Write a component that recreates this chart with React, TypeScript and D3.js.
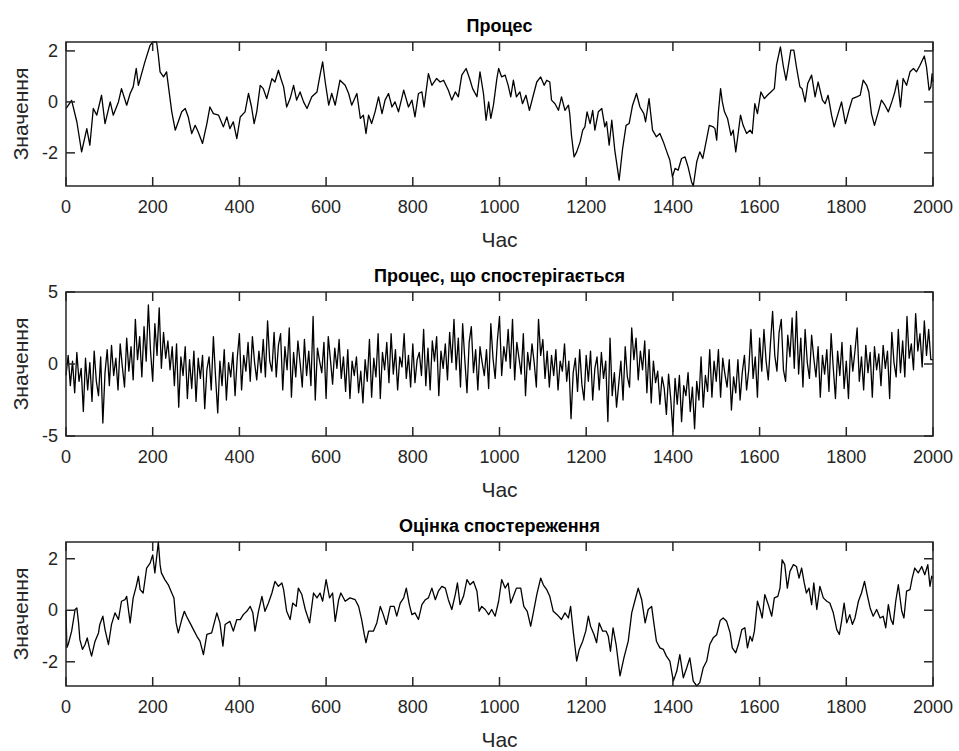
import React from 'react'
import { scaleLinear, line, range } from 'd3'

const WIDTH = 959
const HEIGHT = 751
const LEFT = 66
const RIGHT = 933
const PLOT_H = 144
const FONT = '"Liberation Sans", Arial, Helvetica, sans-serif'
const INK = '#262626'

const xTicks = [0, 200, 400, 600, 800, 1000, 1200, 1400, 1600, 1800, 2000]

// Процес (true process)
const processTime = [
  0, 13, 25, 36, 48, 55, 63, 71, 82, 90, 102, 109, 121, 128, 140, 148, 155, 162, 167, 182,
  194, 200, 209, 213, 217, 225, 232, 236, 244, 252, 259, 267, 275, 282, 290, 298, 305, 315, 325, 332,
  340, 352, 363, 371, 378, 386, 394, 402, 413, 421, 428, 434, 440, 448, 455, 463, 475, 482, 490, 496,
  502, 509, 517, 525, 532, 540, 548, 556, 567, 579, 586, 592, 598, 606, 613, 621, 632, 644, 652, 659,
  671, 679, 686, 692, 698, 705, 713, 721, 729, 736, 744, 752, 759, 767, 779, 790, 798, 805, 813, 821,
  826, 836, 844, 855, 863, 871, 882, 890, 898, 905, 913, 923, 931, 938, 948, 955, 963, 969, 975, 980,
  986, 994, 998, 1005, 1013, 1020, 1026, 1032, 1039, 1047, 1053, 1061, 1069, 1078, 1086, 1095, 1103, 1109, 1116, 1120,
  1128, 1136, 1143, 1151, 1159, 1162, 1166, 1172, 1178, 1186, 1192, 1197, 1202, 1209, 1215, 1220, 1228, 1236, 1243, 1247,
  1253, 1259, 1266, 1276, 1284, 1292, 1299, 1307, 1316, 1324, 1333, 1337, 1345, 1353, 1362, 1370, 1378, 1386, 1393, 1399,
  1405, 1412, 1420, 1428, 1435, 1443, 1447, 1455, 1462, 1469, 1478, 1484, 1493, 1497, 1501, 1505, 1510, 1514, 1519, 1526,
  1534, 1539, 1545, 1551, 1556, 1562, 1570, 1578, 1583, 1589, 1595, 1603, 1611, 1618, 1626, 1634, 1639, 1648, 1655, 1661,
  1666, 1672, 1679, 1685, 1693, 1698, 1705, 1711, 1720, 1728, 1735, 1745, 1751, 1758, 1766, 1772, 1780, 1789, 1798, 1806,
  1814, 1824, 1832, 1839, 1847, 1852, 1858, 1865, 1874, 1881, 1889, 1897, 1905, 1912, 1918, 1925, 1931, 1939, 1947, 1955,
  1962, 1970, 1980, 1985, 1991, 1995, 1998, 2000,
]
const processValue = [
  -0.26, 0.06, -0.78, -1.96, -1.05, -1.7, -0.26, -0.52, 0.26, -0.85, 0, -0.52, 0, 0.52, -0.13, 0.33, 0.59, 1.31, 0.65, 1.57,
  2.22, 2.35, 2.35, 1.83, 1.18, 0.98, 1.18, 0.65, -0.39, -1.11, -0.78, -0.39, -0.26, -0.59, -1.24, -0.92, -1.18, -1.63, -0.85, -0.2,
  -0.46, -0.52, -0.98, -0.59, -1.05, -0.78, -1.44, -0.59, -0.39, 0.33, -0.2, -0.85, -0.39, 0.65, 0.52, 0.13, 0.91, 0.78, 1.24, 0.9,
  0.59, -0.2, 0.13, 0.65, 0.07, 0.39, 0, -0.26, 0.2, 0.39, 1.05, 1.57, 0.78, -0.13, 0.33, -0.13, 0.85, 0.65, 0.33, -0.13,
  0.33, -0.65, -0.52, -1.24, -0.52, -0.85, -0.39, 0.2, -0.46, 0.07, 0.33, -0.2, 0, -0.39, 0.46, -0.2, 0.07, -0.59, 0.33, 0.39,
  -0.2, 1.11, 0.65, 0.92, 0.78, 0.85, 0.46, 0.07, 0.39, 0.2, 1.05, 1.31, 0.92, 0.52, 0.2, 1.18, 0.33, -0.72, 0, -0.65,
  -0.13, 0.92, 1.31, 0.98, 1.05, 0.65, 0.2, 0.85, 0.2, 0.39, -0.07, 0.26, -0.33, 0.26, 0.78, 0.98, 0.65, 0.85, 0.78, 0.07,
  -0.07, -0.33, 0.2, -0.33, -0.13, -0.46, -1.31, -2.16, -1.96, -1.57, -1.11, -0.98, -0.39, -0.85, -0.33, -1.11, -0.39, -0.26, -0.98, -0.78,
  -1.7, -0.72, -1.9, -3.07, -1.83, -0.92, -0.85, -0.13, 0.33, -0.2, -0.46, -0.78, 0.13, -1.11, -1.37, -1.24, -1.57, -1.96, -2.29, -2.94,
  -2.61, -2.68, -2.22, -2.16, -2.55, -3.14, -3.3, -2.35, -1.96, -2.22, -1.44, -0.92, -0.98, -1.05, -1.5, -0.39, 0.52, 0, -0.39, -0.65,
  -1.31, -1.11, -1.96, -1.18, -0.52, -0.92, -1.24, -1.11, -1.24, -0.07, -0.46, 0.39, 0.13, 0.26, 0.39, 0.52, 1.44, 2.16, 1.37, 0.85,
  1.37, 2.03, 2.03, 1.37, 0.59, 0.52, 0, 0.72, 1.05, 0.2, 0.78, 0.07, -0.07, 0.26, -0.52, -0.98, -0.52, 0, -0.85, -0.33,
  0.13, 0.2, 0.26, 0.85, 0.65, 0.39, -0.46, -0.92, -0.39, 0.07, -0.13, -0.39, 0, 0.39, 0.85, -0.2, 0.92, 0.65, 1.18, 1.31,
  1.18, 1.44, 1.8, 1.37, 0.46, 0.59, 1.11, 0.78,
]

// Процес, що спостерігається (observed, one value every 5 time steps)
const observedValue = [
  -0.8, 0.6, -1.5, 0.2, -2.0, 0.8, -1.2, -0.3, -3.3, 0.4,
  -1.8, 0.1, -2.6, 0.9, -1.2, -2.2, 0.5, -4.1, -0.6, 1.0,
  -1.5, 1.3, -0.8, 0.4, -1.8, 1.4, -0.2, -1.6, 1.8, -0.5,
  1.2, -1.1, 3.1, 0.3, 1.9, -0.9, 2.6, 0.2, 4.1, 0.9,
  -1.2, 2.8, 0.6, 3.9, -0.3, 2.2, 0.4, 1.6, -0.4, 1.2,
  -1.5, 1.4, -3.0, 0.5, -0.8, 1.2, -2.4, 0.3, -1.7, 0.9,
  -2.6, 0.4, -1.0, 0.6, -3.1, -0.4, 0.5, -1.8, 1.9, -0.9,
  -3.4, 0.2, -1.5, 1.0, -2.5, 0.1, -0.9, 0.8, -2.2, 0.4,
  2.1, -1.8, 0.6, -0.5, 1.5, -1.2, 1.9, 0.1, -1.1, 0.9,
  -0.6, 1.7, -0.9, 3.0, 0.2, -0.5, 2.2, -0.9, 1.3, 2.1,
  -1.8, 1.2, -0.4, 2.5, -2.3, 0.8, -0.9, 1.6, 0.1, -1.6,
  1.7, -0.8, 0.9, -1.5, 3.3, -2.5, 1.1, 0.2, -0.6, 1.5,
  -2.4, 1.9, 0.3, -1.4, 1.1, -0.3, 1.7, -1.0, 0.5, -1.9,
  1.0, -2.4, 0.2, -0.8, 0.5, -2.0, -0.5, -2.7, 0.3, -1.2,
  1.7, -2.3, 0.4, -0.9, 2.1, -2.4, 0.8, -0.4, 1.5, -1.3,
  2.1, -0.7, 1.0, -1.8, 0.5, -0.2, 2.1, -1.0, 0.6, -1.6,
  1.4, -1.3, 0.3, 0.8, -0.8, 2.4, -1.5, 1.1, -1.8, 1.6,
  0.2, 1.9, -2.2, 0.9, -0.3, 1.4, -1.1, 2.2, 0.1, 3.1,
  -0.4, 1.8, -1.6, 2.8, 0.3, -2.0, 1.5, 2.6, -0.6, 1.0,
  -1.8, 1.2, 0.1, -0.8, 1.0, -1.7, 2.8, 0.4, -1.0, 1.6,
  3.3, -0.8, 1.2, 0.2, 2.4, -0.3, 3.1, -1.1, 1.5, 0.4,
  -0.7, 2.1, -2.2, 0.8, -0.4, 1.4, 0.1, -1.6, 3.1, 0.6,
  1.7, -1.0, 0.9, -1.6, 0.6, -0.8, 1.0, -1.8, 0.2, -0.5,
  1.4, -1.2, 0.2, -3.8, -0.6, 0.4, -1.9, 1.0, -1.4, -2.5,
  0.6, -1.2, 0.9, -2.5, -0.3, 0.5, -1.8, 0.8, -1.0, 0.2,
  -4.0, 1.8, -2.2, -0.6, -3.0, -1.4, 0.2, -2.5, 1.2, -0.9,
  -1.6, 2.5, 0.3, 1.8, -1.1, 0.9, -0.4, 1.6, -2.0, 1.0,
  -2.7, 0.2, -1.3, -0.5, -2.8, -0.9, -1.7, -3.5, -0.7, -2.4,
  -4.7, -1.0, -2.8, -0.8, -4.0, -1.5, -2.2, -0.6, -3.3, -1.6,
  -4.5, -1.2, -2.5, 0.5, -3.0, -0.8, -1.9, 1.0, -2.3, 0.2,
  -1.2, 1.0, -2.3, 0.4, -0.7, -1.6, 0.3, -3.2, -0.9, -2.0,
  0.3, -2.5, -0.6, 0.6, -1.8, -0.4, 2.4, -1.0, 0.5, -2.3,
  1.8, -0.5, 2.4, 0.2, -1.1, 1.4, 3.65, 0.6, -0.5, 2.2,
  3.1, -0.4, -1.2, 2.0, 0.5, 3.2, -0.3, 3.65, -0.7, 1.8,
  -1.6, 2.4, 0.1, -1.0, 2.0, 0.4, -0.9, 1.2, -2.3, 0.6,
  -0.7, 1.0, -1.9, 2.1, -0.3, -2.4, 0.9, -0.8, 1.5, -1.7,
  0.2, -2.4, 1.3, -0.5, 0.9, 2.5, -1.2, 0.5, -1.8, 1.3,
  -0.6, 0.8, -2.3, 1.2, -0.4, 0.7, -1.5, 1.3, -0.3, 0.9,
  -2.4, 2.2, 0.1, -0.9, 2.4, -0.6, 1.6, -0.9, 3.3, 0.4,
  1.4, -0.4, 3.5, 0.9, 2.1, -0.2, 3.0, 0.6, 2.4, 0.3,
  0.3,
]
const observedTime = range(0, 2001, 5)

// Оцінка спостереження (estimate)
const estimateTime = [
  0, 2, 5, 13, 21, 25, 29, 32, 38, 44, 49, 54, 59, 67, 75, 78, 85, 90, 98, 105,
  113, 121, 128, 136, 140, 148, 155, 162, 167, 171, 178, 186, 194, 200, 205, 213, 217, 220, 228, 236,
  244, 249, 254, 259, 267, 273, 278, 286, 294, 302, 309, 317, 325, 336, 348, 355, 362, 367, 378, 386,
  394, 402, 409, 417, 425, 431, 436, 444, 452, 459, 467, 475, 482, 490, 498, 502, 509, 517, 523, 531,
  536, 544, 552, 562, 571, 579, 586, 592, 600, 608, 615, 621, 629, 634, 644, 655, 667, 675, 682, 688,
  692, 698, 709, 717, 725, 732, 739, 748, 757, 763, 771, 779, 785, 792, 798, 805, 813, 821, 829, 836,
  844, 852, 859, 867, 875, 882, 890, 898, 903, 909, 917, 925, 932, 940, 948, 953, 959, 967, 975, 982,
  990, 998, 1005, 1013, 1020, 1026, 1032, 1039, 1049, 1056, 1064, 1072, 1078, 1086, 1095, 1101, 1109, 1116, 1124, 1133,
  1143, 1151, 1159, 1164, 1170, 1178, 1184, 1192, 1199, 1205, 1210, 1218, 1224, 1230, 1238, 1246, 1251, 1256, 1262, 1269,
  1278, 1287, 1297, 1305, 1312, 1320, 1328, 1336, 1343, 1351, 1356, 1362, 1370, 1378, 1385, 1393, 1401, 1409, 1416, 1424,
  1432, 1439, 1447, 1455, 1462, 1470, 1478, 1485, 1493, 1501, 1509, 1516, 1524, 1532, 1537, 1545, 1551, 1559, 1566, 1572,
  1578, 1583, 1588, 1595, 1601, 1606, 1612, 1620, 1628, 1634, 1642, 1647, 1652, 1658, 1664, 1670, 1678, 1685, 1691, 1697,
  1703, 1708, 1714, 1720, 1725, 1732, 1739, 1747, 1755, 1762, 1770, 1778, 1784, 1789, 1795, 1801, 1808, 1814, 1820, 1828,
  1835, 1842, 1849, 1855, 1862, 1870, 1878, 1885, 1891, 1897, 1903, 1908, 1914, 1920, 1928, 1933, 1939, 1947, 1952, 1958,
  1966, 1974, 1981, 1988, 1993, 1997, 2000,
]
const estimateValue = [
  0, -1.45, -1.33, -0.81, 0.03, 0.09, -0.49, -1.14, -1.52, -1.33, -1.07, -1.46, -1.78, -1.2, -0.88, -0.55, -0.23, -0.75, -1.33, -0.55,
  -0.1, -0.36, 0.35, 0.41, 0.54, -0.49, 0.48, 0.93, 1.32, 0.8, 0.67, 1.64, 1.83, 2.15, 1.45, 2.65, 1.77, 1.45, 1.19, 0.99,
  0.67, 0.48, -0.49, -0.88, -0.36, -0.04, -0.23, -0.49, -0.75, -1.01, -1.2, -1.72, -0.94, -0.88, -0.1, -0.49, -1.39, -0.55, -0.43, -0.81,
  -0.36, -0.36, -0.17, -0.04, 0.15, -0.1, -0.81, -0.04, 0.54, -0.04, 0.28, 0.67, 1.12, 0.93, 1.06, 0.8, -0.04, -0.36, 0.28, 0.15,
  0.86, 0.61, 0.03, -0.49, 0.67, 0.48, 0.67, 0.35, 1.19, 0.48, 0.67, -0.43, 0.41, 0.67, 0.35, 0.48, 0.41, 0.15, -0.36, -0.94,
  -1.26, -0.81, -0.81, -0.49, 0.15, -0.17, -0.55, 0.15, 0.15, -0.23, 0.28, 0.48, 0.86, 0.22, -0.17, -0.1, -0.36, 0.22, 0.41, 0.48,
  0.86, 0.41, 0.74, 0.93, 0.86, 0.41, 0.03, 0.61, 1.06, 0.22, 0.54, 1.19, 0.99, 1.12, 0.74, -0.04, 0.15, 0.03, -0.17, 0.03,
  -0.23, 0.35, 1.19, 0.86, 1.06, 0.28, 0.54, 0.86, 0.86, 0.15, -0.04, -0.62, -0.1, 0.61, 1.25, 0.99, 0.8, 0.54, -0.04, -0.17,
  -0.36, -0.1, -0.3, 0.15, -0.81, -1.97, -1.52, -1.2, -0.81, -0.23, -0.62, -0.94, -1.26, -0.49, -0.81, -0.81, -1.01, -1.59, -0.68, -1.33,
  -2.55, -1.85, -1.2, -0.1, 0.35, 0.86, 0.41, -0.49, 0.03, 0.15, -0.49, -1.2, -1.46, -1.52, -1.78, -1.97, -2.75, -2.36, -1.72, -2.62,
  -2.23, -1.85, -2.75, -2.94, -2.81, -2.23, -1.97, -1.33, -1.07, -0.95, -0.4, -0.3, -0.43, -0.88, -1.46, -1.65, -1.33, -0.75, -0.68, -1.46,
  -1.01, -1.2, -0.81, 0.35, 0.03, -0.3, 0.61, 0.22, -0.23, 0.48, 0.54, 0.86, 1.96, 1.77, 0.86, 1.51, 1.77, 1.7, 1.25, 1.64,
  1.06, 0.67, 0.86, 0.22, 1.06, 0.03, 0.93, 0.48, 0.35, 0.28, -0.1, -0.75, -0.94, -0.43, 0.28, -0.49, -0.17, -0.55, -0.3, 0.35,
  0.67, 1.12, 0.54, 0.09, -0.23, 0.03, -0.3, -0.23, -0.68, 0.22, -0.36, -0.55, 0.35, 0.99, -0.04, -0.3, 0.74, 0.8, 1.25, 1.64,
  1.45, 1.7, 1.38, 1.77, 0.93, 1.32, 1.25,
]

const Subplot = ({ top, title, times, values, yDomain, yTicks }) => {
  const bottom = top + PLOT_H
  const x = scaleLinear().domain([0, 2000]).range([LEFT, RIGHT])
  const y = scaleLinear().domain(yDomain).range([bottom, top])
  const pts = times.map((t, i) => [t, values[i]])
  const path = line()
    .x(d => x(d[0]))
    .y(d => y(d[1]))(pts)
  const TL = 9

  return (
    <g>
      <text x={(LEFT + RIGHT) / 2} y={top - 10} textAnchor="middle" fontWeight="bold" fontSize={18} fill="#000">{title}</text>
      <path d={path} fill="none" stroke="#000" strokeWidth={1.3} strokeLinejoin="round" />
      <rect x={LEFT} y={top} width={RIGHT - LEFT} height={PLOT_H} fill="none" stroke={INK} strokeWidth={1.5} />
      {xTicks.map(t => (
        <g key={t}>
          <line x1={x(t)} x2={x(t)} y1={bottom} y2={bottom - TL} stroke={INK} strokeWidth={1.5} />
          <line x1={x(t)} x2={x(t)} y1={top} y2={top + TL} stroke={INK} strokeWidth={1.5} />
          <text x={x(t)} y={bottom + 27} textAnchor="middle" fontSize={18} fill={INK}>{t}</text>
        </g>
      ))}
      {yTicks.map(v => (
        <g key={v}>
          <line x1={LEFT} x2={LEFT + TL} y1={y(v)} y2={y(v)} stroke={INK} strokeWidth={1.5} />
          <line x1={RIGHT} x2={RIGHT - TL} y1={y(v)} y2={y(v)} stroke={INK} strokeWidth={1.5} />
          <text x={LEFT - 8} y={y(v) + 6} textAnchor="end" fontSize={18} fill={INK}>{v < 0 ? `-${-v}` : v}</text>
        </g>
      ))}
      <text x={(LEFT + RIGHT) / 2} y={bottom + 61} textAnchor="middle" fontSize={21} fill={INK}>Час</text>
      <text transform={`translate(28, ${top + PLOT_H / 2}) rotate(-90)`} textAnchor="middle" fontSize={21} fill={INK}>Значення</text>
    </g>
  )
}

export default function App() {
  return (
    <svg width={WIDTH} height={HEIGHT} viewBox={`0 0 ${WIDTH} ${HEIGHT}`}
      style={{ position: 'absolute', left: 0, top: 0, background: '#fff', fontFamily: FONT }}>
      <rect width={WIDTH} height={HEIGHT} fill="#fff" />
      <Subplot top={42} title="Процес" times={processTime} values={processValue} yDomain={[-3.3, 2.35]} yTicks={[-2, 0, 2]} />
      <Subplot top={292} title="Процес, що спостерігається" times={observedTime} values={observedValue} yDomain={[-5, 5]} yTicks={[-5, 0, 5]} />
      <Subplot top={542} title="Оцінка спостереження" times={estimateTime} values={estimateValue} yDomain={[-2.94, 2.65]} yTicks={[-2, 0, 2]} />
    </svg>
  )
}
